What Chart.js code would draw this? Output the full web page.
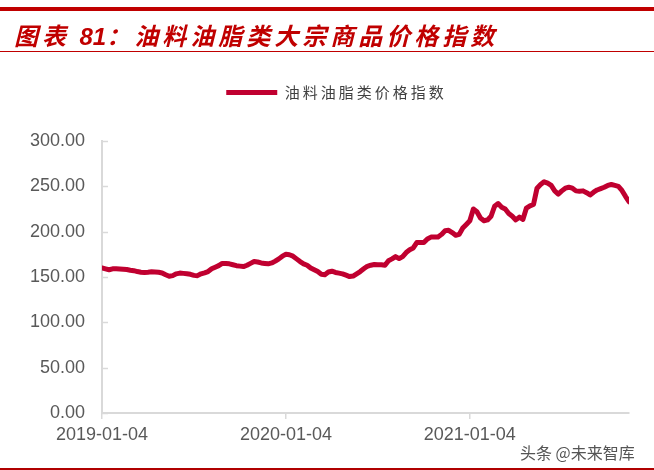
<!DOCTYPE html>
<html><head><meta charset="utf-8">
<script src="https://cdn.jsdelivr.net/npm/chart.js@4.4.0/dist/chart.umd.min.js"></script>
<style>
html,body{margin:0;padding:0;background:#fff;}
#wrap{position:relative;width:654px;height:470px;overflow:hidden;background:#fff;}
#topbar{position:absolute;left:0;top:7px;width:654px;height:4px;background:#C00000;}
#title{position:absolute;left:14px;top:17px;height:30px;line-height:30px;font:italic bold 24px "Noto Sans CJK SC";letter-spacing:4px;color:#C00000;white-space:nowrap;}
#title .num{font-family:"Liberation Sans",Arial,sans-serif;letter-spacing:0;}
#rule{position:absolute;left:0;top:51px;width:654px;height:1px;background:#C00000;}
#bottom{position:absolute;left:0;top:468px;width:654px;height:2px;background:#B00000;}
#mark{position:absolute;left:520px;top:440px;font:16px "Noto Sans CJK SC";color:#555;white-space:nowrap;}
canvas{position:absolute;left:0;top:0;}
</style></head><body>
<div id="wrap">
<canvas id="c" width="654" height="470" style="width:654px;height:470px"></canvas>
<div id="topbar"></div>
<div id="title">图表 <span class="num">81</span>：油料油脂类大宗商品价格指数</div>
<div id="rule"></div>
<div id="mark">头条 @未来智库</div>
<div id="bottom"></div>
</div>
<script>
const seriesName = '油料油脂类价格指数';
const tickLabels = ['2019-01-04', '2020-01-04', '2021-01-04'];
const tickIndex = [0, 52, 104];
const yTicks = [0, 50, 100, 150, 200, 250, 300];
const values = [
  160, 159, 158, 159, 159, 158.8, 158.6, 158.3, 157.5, 157,
  156, 155.3, 155, 155.3, 155.7, 155.5, 155.2, 154.5, 152.5, 150.8,
  151.5, 153.5, 154.3, 154, 153.6, 153, 151.8, 151.5, 153.5, 154.6,
  156, 159, 160.8, 162.5, 165, 165, 164.5, 163.5, 162.5, 162,
  161.5, 163, 165, 167, 166.5, 165.5, 165, 164.5, 165.5, 167.5,
  170, 173, 175, 174.5, 173, 170, 167, 164.5, 163, 160,
  158, 156, 153, 152.5, 155.5, 156.4, 155, 154.3, 153.5, 152,
  150.5, 151, 153.5, 156, 159, 161.8, 163, 163.7, 163.5, 163.5,
  163, 168, 170, 172.5, 170.3, 172.5, 177, 180, 182, 188,
  188, 188, 192, 194, 194, 194, 197, 201, 201.5, 199,
  196, 197, 204, 208, 212, 225, 222, 215, 212, 213,
  217, 228, 231, 227, 225, 220, 217, 213, 216, 213.5,
  226, 228.5, 230, 248, 252, 255, 253.5, 251, 245, 241.5,
  245, 248, 249, 248, 245, 244.5, 245, 243, 240.5, 243.5,
  246, 247.5, 249, 251, 252, 251, 250, 245.5, 239, 233
];

const lineColor = '#C00030';
const axisColor = '#d9d9d9';
const labelColor = '#595959';
const numFont = '"Liberation Sans", Arial, sans-serif';

const legendTweak = {
  id: 'legendTweak',
  afterInit(chart) {
    const lg = chart.legend;
    if (!lg) return;
    const of = lg.fit.bind(lg), od = lg.draw.bind(lg);
    lg.fit = function () {
      const ctx = this.ctx; ctx.save(); ctx.letterSpacing = '3px'; of(); ctx.restore();
      this.height = 66;
    };
    lg.draw = function () {
      const ctx = this.ctx; ctx.save(); ctx.letterSpacing = '3px'; ctx.translate(22, 0); od(); ctx.restore();
    };
  }
};

const innerTicks = {
  id: 'innerTicks',
  beforeDatasetsDraw(chart) {
    const y = chart.scales.y, ctx = chart.ctx, x0 = chart.chartArea.left;
    ctx.save();
    ctx.strokeStyle = axisColor; ctx.lineWidth = 1.5;
    y.ticks.forEach(t => {
      const py = Math.round(y.getPixelForValue(t.value)) + 0.5;
      ctx.beginPath(); ctx.moveTo(x0, py); ctx.lineTo(x0 + 6, py); ctx.stroke();
    });
    ctx.restore();
  }
};

new Chart(document.getElementById('c'), {
  type: 'line',
  data: {
    datasets: [{
      label: seriesName,
      data: values.map((v, i) => ({ x: i, y: v })),
      borderColor: lineColor,
      backgroundColor: lineColor,
      borderWidth: 5,
      borderCapStyle: 'round',
      borderJoinStyle: 'round',
      pointRadius: 0,
      tension: 0,
      fill: false
    }]
  },
  options: {
    responsive: false,
    animation: false,
    layout: { padding: { left: 0, right: 25, top: 75, bottom: 0 } },
    plugins: {
      legend: {
        display: true,
        position: 'top',
        labels: {
          usePointStyle: true,
          pointStyle: 'line',
          pointStyleWidth: 51,
          boxHeight: 5,
          padding: 10,
          color: '#404040',
          font: { size: 15, family: '"Noto Sans CJK SC"' }
        }
      },
      tooltip: { enabled: false }
    },
    scales: {
      x: {
        type: 'linear',
        min: 0,
        max: values.length - 1,
        afterBuildTicks: s => { s.ticks = tickIndex.map(v => ({ value: v })); },
        afterFit: s => { s.height = 57; },
        grid: { drawOnChartArea: false, drawTicks: true, tickLength: 6, color: axisColor, lineWidth: 1.5 },
        border: { display: true, color: axisColor, width: 2 },
        ticks: {
          autoSkip: false, maxRotation: 0, padding: 5, color: labelColor,
          font: { size: 18, family: numFont },
          callback: v => { const k = tickIndex.indexOf(v); return k >= 0 ? tickLabels[k] : null; }
        }
      },
      y: {
        min: 0,
        max: 300,
        afterBuildTicks: s => { s.ticks = yTicks.map(v => ({ value: v })); },
        afterFit: s => { s.width = 102; },
        grid: { drawOnChartArea: false, drawTicks: false },
        border: { display: true, color: axisColor, width: 2 },
        ticks: {
          padding: 17, color: labelColor,
          font: { size: 18, family: numFont },
          callback: v => Number(v).toFixed(2)
        }
      }
    }
  },
  plugins: [legendTweak, innerTicks]
});
</script>
</body></html>
